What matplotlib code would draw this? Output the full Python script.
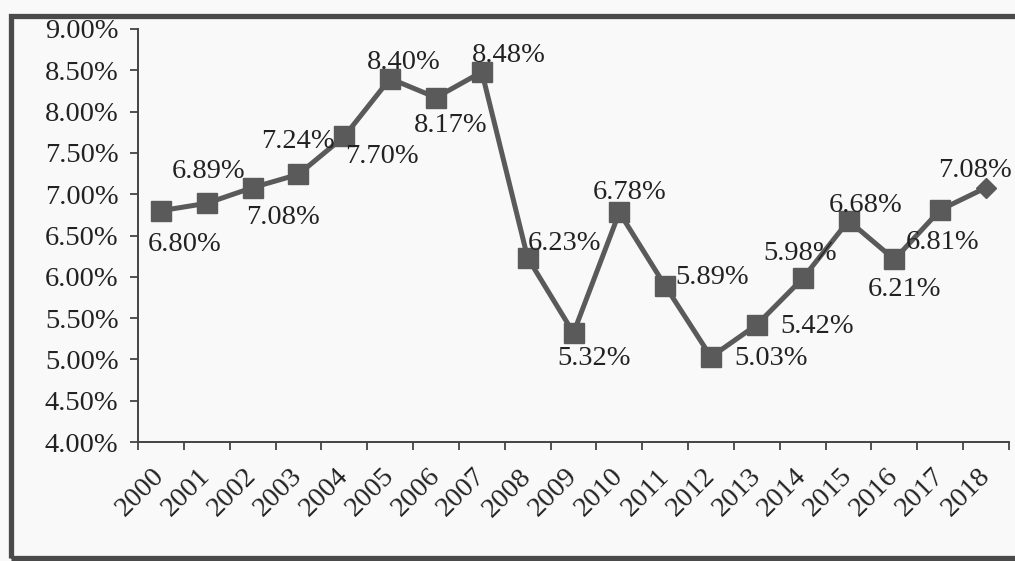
import matplotlib
matplotlib.use("Agg")
import matplotlib.pyplot as plt
from matplotlib.patches import Rectangle

years = ["2000", "2001", "2002", "2003", "2004", "2005", "2006", "2007", "2008", "2009",
         "2010", "2011", "2012", "2013", "2014", "2015", "2016", "2017", "2018"]
rates = [6.80, 6.89, 7.08, 7.24, 7.70, 8.40, 8.17, 8.48, 6.23, 5.32,
         6.78, 5.89, 5.03, 5.42, 5.98, 6.68, 6.21, 6.81, 7.08]
y_ticks = [4.0, 4.5, 5.0, 5.5, 6.0, 6.5, 7.0, 7.5, 8.0, 8.5, 9.0]

# label offsets in pixels (dx, dy) relative to each point
label_offsets = [(24, -34), (2, 32), (30, -30), (-1, 33), (38, -20), (14, 16), (15, -28),
                 (27, 16), (37, 14), (21, -26), (10, 20), (47, 8), (60, -2), (60, -2),
                 (-3, 25), (17, 15), (10, -30), (2, -33), (-11, 17)]

plt.rcParams['font.family'] = ['Liberation Serif', 'DejaVu Serif']
FS = 20.5
TXT = '#222222'
GRAY = '#5a5a5a'

fig = plt.figure(figsize=(10.15, 5.61), dpi=100, facecolor='#f9f9f9')
ax = fig.add_axes([138/1015, 119/561, (1009-138)/1015, (442-29)/561])
ax.set_facecolor('none')

x = list(range(len(years)))
ax.plot(x, rates, color=GRAY, lw=3.6, zorder=2)
ax.plot(x[:-1], rates[:-1], ls='none', marker='s', ms=14, color=GRAY, zorder=3)
ax.plot(x[-1:], rates[-1:], ls='none', marker='D', ms=10, color=GRAY, zorder=3)

for xi, v, (dx, dy) in zip(x, rates, label_offsets):
    ax.annotate(f"{v:.2f}%", (xi, v), xytext=(dx, dy), textcoords='offset pixels',
                ha='center', va='center', fontsize=FS, color=TXT, zorder=4)

ax.set_xlim(-0.5, len(years) - 0.5)
ax.set_ylim(4.0, 9.0)
ax.set_yticks(y_ticks)
ax.set_yticklabels([f"{t:.2f}%" for t in y_ticks], fontsize=FS, color=TXT)

ax.set_xticks([i - 0.5 for i in range(len(years) + 1)])
ax.set_xticklabels([])
ax.set_xticks(x, minor=True)
ax.set_xticklabels(years, minor=True, rotation=45, ha='right', va='center',
                   rotation_mode='anchor', fontsize=FS, color=TXT)
ax.tick_params(axis='x', which='minor', length=0, pad=22)
ax.tick_params(axis='x', which='major', length=6, width=1.3, color='#444444', direction='out')
ax.tick_params(axis='y', length=6, width=1.3, color='#444444', direction='out', pad=8)

for s in ['top', 'right']:
    ax.spines[s].set_visible(False)
for s in ['left', 'bottom']:
    ax.spines[s].set_color('#444444')
    ax.spines[s].set_linewidth(1.4)

# outer frame
fig.patches.append(Rectangle((11/1015, 3/561), 1.1, (545-3)/561, transform=fig.transFigure,
                             fill=False, edgecolor='#4a4a4a', lw=3.8))

fig.savefig('out.png', dpi=100, facecolor=fig.get_facecolor())
